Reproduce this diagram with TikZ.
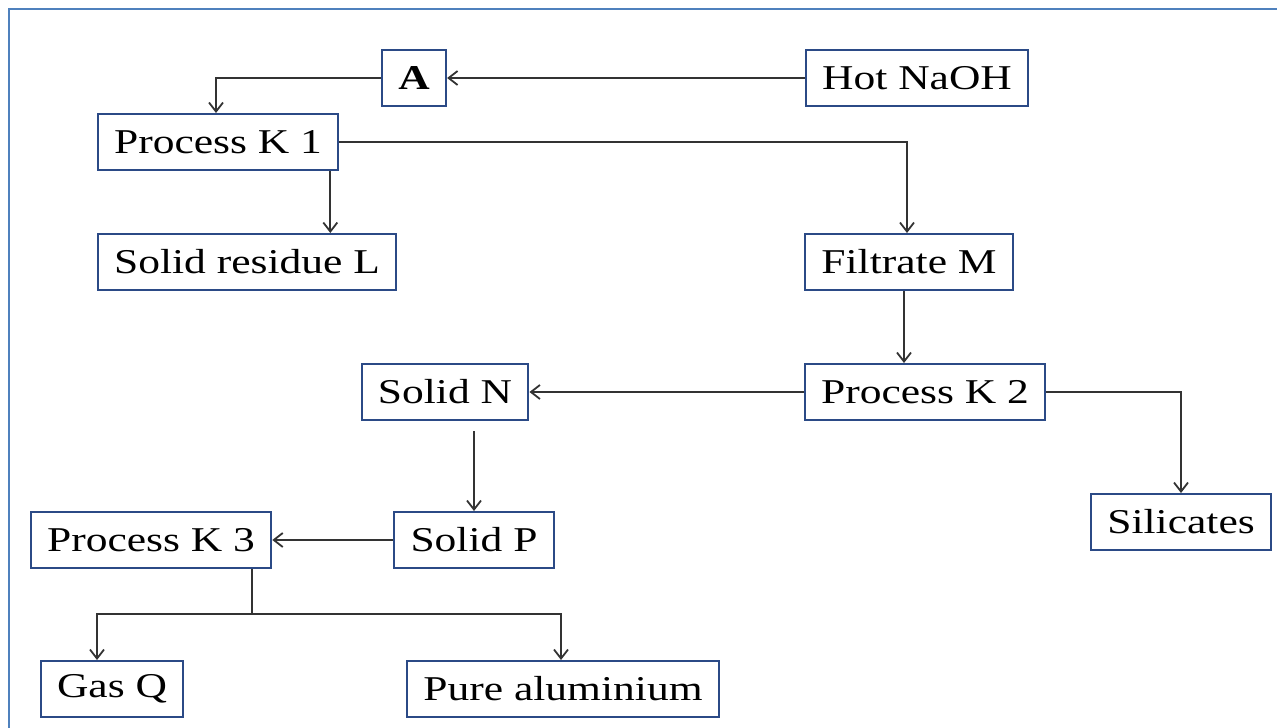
\documentclass[tikz,border=0pt]{standalone}
\usepackage{fontspec}
\setmainfont{Liberation Serif}[FakeStretch=1.25]
\usetikzlibrary{arrows.meta}
\definecolor{fFrame}{HTML}{4F81BD}
\definecolor{fBox}  {HTML}{2B4A86}
\definecolor{fLine} {HTML}{333333}

\begin{document}
\begin{tikzpicture}[
  x=0.5pt, y=-0.5pt, font=\fontsize{17.4}{20}\selectfont,
  blk/.style={draw=fBox, line width=1pt, fill=white, inner xsep=8.2pt,
              inner ysep=0pt, minimum height=28pt},
  ar/.style={-{Straight Barb[length=4.5pt, width=7pt]}, draw=fLine, line width=0.9pt},
  ln/.style={draw=fLine, line width=0.9pt},
]
\useasboundingbox (0,0) rectangle (1277,727);

% frame
\begin{scope}
  \clip (0,0) rectangle (1277,727);
  \draw[fFrame, line width=1pt] (8.5,740) -- (8.5,9) -- (1290,9);
\end{scope}

% ============================================================ ROW 1
\node[blk] at (414,78)  (a)     {\textbf{A}};
\node[blk] at (917,78)  (naoh)  {Hot NaOH};
\node[blk] at (218,142) (k1)    {Process K 1};

% ============================================================ ROW 2
\node[blk] at (247,262) (resL)  {Solid residue L};
\node[blk] at (909,262) (filtM) {Filtrate M};

% ============================================================ ROW 3
\node[blk] at (445,392) (solN)  {Solid N};
\node[blk] at (925,392) (k2)    {Process K 2};
\node[blk] at (1181,522) (silic) {Silicates};

% ============================================================ ROW 4
\node[blk] at (151,540) (k3)    {Process K 3};
\node[blk] at (474,540) (solP)  {Solid P};
\node[blk] at (112,689) (gasQ)  {Gas Q};
\node[blk] at (563,689) (alum)  {Pure aluminium};

\coordinate (split) at (252,614);

% ============================================================ arrows
\draw[ar] (naoh) -- (a);
\draw[ar] (a.west) -| ([xshift=-1pt]k1.north);
\draw[ar] (k1.east) -| ([xshift=-1pt]filtM.north);
\draw[ar] ([xshift=-4.5pt]k1.south east) -- ([xshift=-4.5pt]k1.south east |- resL.north);
\draw[ar] ([xshift=-2.5pt]filtM.south) -- ([xshift=-2.5pt]filtM.south |- k2.north);
\draw[ar] (k2) -- (solN);
\draw[ar] (k2.east) -| (silic.north);
\draw[ar, shorten <=5pt] (solN.south -| solP.north) -- (solP.north);
\draw[ar] (solP) -- (k3);
\draw[ln] (k3.south -| split) -- (split);
\draw[ar] (split) -| ([xshift=-7.5pt]gasQ.north);
\draw[ar] (split) -| ([xshift=-1pt]alum.north);

\end{tikzpicture}
\end{document}
